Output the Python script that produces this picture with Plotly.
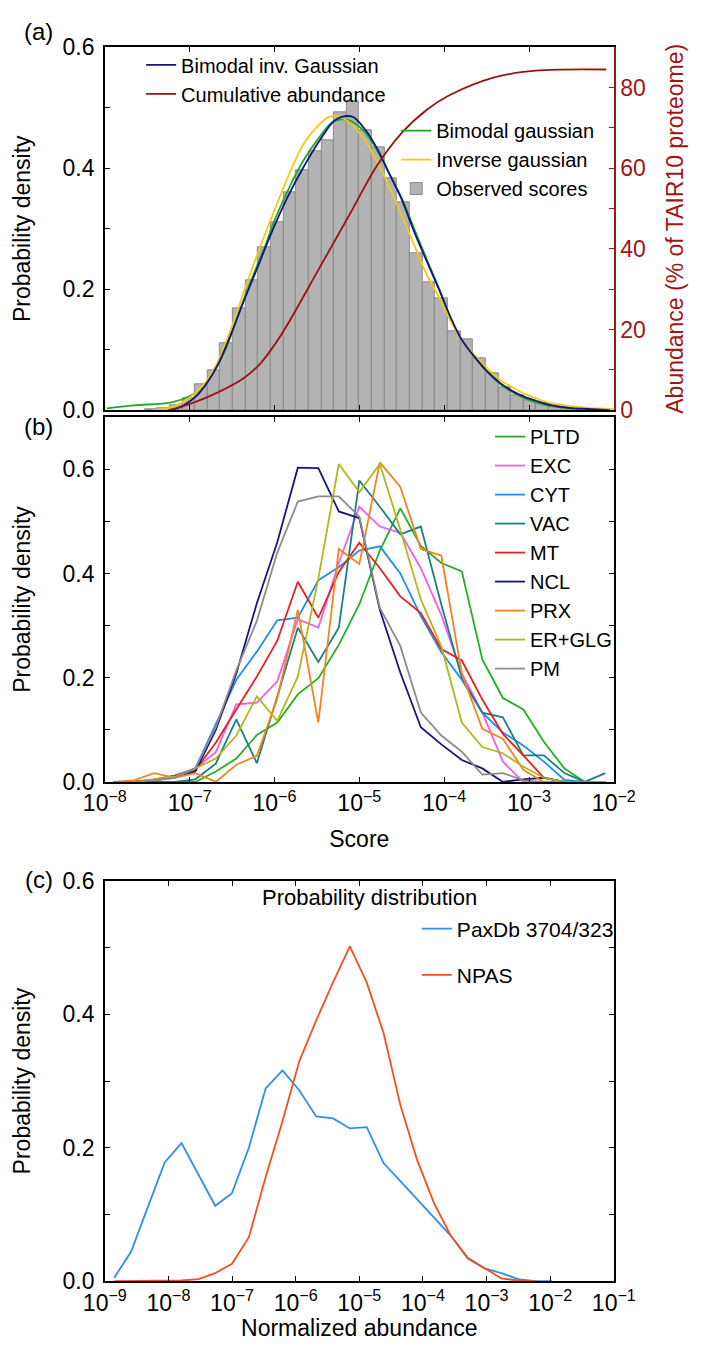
import plotly.graph_objects as go

# ---------------- Panel (a): score distribution ----------------
hist_log10_center = [-7.459, -7.310, -7.161, -7.012, -6.863, -6.714, -6.565, -6.416, -6.267, -6.118,
                     -5.969, -5.820, -5.671, -5.522, -5.373, -5.224, -5.075, -4.926, -4.777, -4.628,
                     -4.479, -4.330, -4.181, -4.032, -3.883, -3.734, -3.585, -3.436, -3.287, -3.138,
                     -2.989, -2.840, -2.691, -2.542]
hist_density = [0.002, 0.003, 0.008, 0.019, 0.042, 0.066, 0.110, 0.169, 0.215, 0.270,
                0.311, 0.360, 0.396, 0.428, 0.446, 0.493, 0.510, 0.462, 0.435, 0.384,
                0.343, 0.259, 0.211, 0.185, 0.131, 0.117, 0.085, 0.061, 0.038, 0.024,
                0.016, 0.011, 0.007, 0.004]
hist_bin_width = 0.149

bimodal_inv_log10 = [-7.215, -7.067, -6.917, -6.806, -6.658, -6.509, -6.36, -6.212, -6.025, -5.84,
                     -5.654, -5.468, -5.30, -5.208, -5.077, -4.948, -4.799, -4.65, -4.502, -4.353,
                     -4.204, -4.056, -3.906, -3.795, -3.646, -3.498, -3.349, -3.20, -3.052, -2.903,
                     -2.754, -2.531, -2.308, -2.05]
bimodal_inv_density = [0.0, 0.008, 0.024, 0.043, 0.078, 0.127, 0.181, 0.232, 0.297, 0.354,
                       0.403, 0.446, 0.478, 0.485, 0.485, 0.467, 0.435, 0.392, 0.349, 0.295,
                       0.246, 0.198, 0.148, 0.117, 0.089, 0.065, 0.046, 0.032, 0.022, 0.015,
                       0.009, 0.004, 0.002, 0.0]

bimodal_gauss_log10 = [-7.977, -7.66, -7.215, -6.99, -6.844, -6.694, -6.546, -6.398, -6.248, -6.10,
                       -6.025, -5.84, -5.654, -5.468, -5.32, -5.208, -5.097, -4.948, -4.80, -4.65,
                       -4.502, -4.353, -4.204, -4.056, -3.906, -3.795, -3.646, -3.498, -3.349, -3.20,
                       -3.052, -2.903, -2.754, -2.531, -2.308, -2.05]
bimodal_gauss_density = [0.003, 0.008, 0.013, 0.024, 0.038, 0.068, 0.111, 0.170, 0.224, 0.275,
                         0.305, 0.364, 0.414, 0.452, 0.476, 0.481, 0.478, 0.462, 0.432, 0.392,
                         0.351, 0.300, 0.249, 0.200, 0.145, 0.117, 0.089, 0.064, 0.044, 0.030,
                         0.020, 0.012, 0.007, 0.003, 0.001, 0.0]

inv_gauss_log10 = [-7.438, -7.215, -6.99, -6.844, -6.694, -6.546, -6.398, -6.248, -6.10, -6.025,
                   -5.84, -5.654, -5.468, -5.357, -5.227, -5.097, -4.948, -4.80, -4.65, -4.502,
                   -4.353, -4.204, -4.056, -3.906, -3.795, -3.646, -3.498, -3.349, -3.20, -3.052,
                   -2.903, -2.754, -2.531, -2.308, -2.05, -1.98]
inv_gauss_density = [0.0, 0.005, 0.022, 0.041, 0.073, 0.122, 0.181, 0.240, 0.295, 0.322,
                     0.386, 0.441, 0.473, 0.485, 0.485, 0.473, 0.449, 0.413, 0.370, 0.322,
                     0.273, 0.224, 0.185, 0.143, 0.116, 0.092, 0.070, 0.051, 0.038, 0.027,
                     0.019, 0.012, 0.007, 0.004, 0.002, 0.001]

cum_log10 = [-7.25, -6.99, -6.66, -6.36, -6.17, -5.99, -5.84, -5.47, -5.10, -4.80,
             -4.50, -4.20, -3.95, -3.42, -2.92, -2.09]
cum_abundance_pct = [0.0, 1.6, 4.5, 8.0, 11.5, 16.5, 21.5, 35.3, 49.1, 60.4,
                     68.8, 74.6, 78.0, 82.5, 84.2, 84.5]

# ---------------- Panel (b): per-compartment score distributions ----------------
loc_log10 = [-7.9, -7.658, -7.417, -7.175, -6.933, -6.692, -6.45, -6.208, -5.967, -5.725,
             -5.483, -5.242, -5.0, -4.758, -4.517, -4.275, -4.033, -3.792, -3.55, -3.308,
             -3.067, -2.825, -2.583, -2.342, -2.1]
PLTD = [0, 0, 0, 0, 0.0, 0.02, 0.045, 0.09, 0.114, 0.168, 0.199, 0.263, 0.341, 0.444, 0.525,
        0.453, 0.42, 0.404, 0.235, 0.161, 0.139, 0.077, 0.026, 0.0, 0.0]
EXC = [0, 0, 0.003, 0.008, 0.026, 0.057, 0.149, 0.152, 0.193, 0.312, 0.296, 0.42, 0.528, 0.49, 0.478,
       0.41, 0.32, 0.208, 0.133, 0.039, 0.0, 0, 0, 0, 0]
CYT = [0, 0, 0.003, 0.012, 0.026, 0.11, 0.196, 0.25, 0.31, 0.315, 0.387, 0.412, 0.444, 0.452, 0.40,
       0.318, 0.249, 0.196, 0.133, 0.095, 0.07, 0.039, 0.004, 0, 0]
VAC = [0, 0, 0, 0, 0.005, 0.035, 0.12, 0.036, 0.164, 0.296, 0.23, 0.296, 0.578, 0.528, 0.475,
       0.49, 0.34, 0.2, 0.133, 0.124, 0.051, 0.051, 0.017, 0.0, 0.017]
MT = [0, 0, 0.005, 0.012, 0.023, 0.075, 0.139, 0.202, 0.271, 0.384, 0.315, 0.403, 0.459, 0.41, 0.356,
      0.324, 0.255, 0.233, 0.158, 0.092, 0.051, 0.008, 0, 0, 0]
NCL = [0, 0, 0.003, 0.01, 0.02, 0.10, 0.208, 0.343, 0.46, 0.603, 0.602, 0.519, 0.506, 0.33, 0.21,
       0.105, 0.072, 0.042, 0.026, 0.0, 0.005, 0.008, 0, 0, 0]
PRX = [0, 0.003, 0.017, 0.008, 0.017, 0.0, 0.033, 0.05, 0.16, 0.33, 0.114, 0.447, 0.418, 0.613, 0.566,
       0.447, 0.434, 0.208, 0.102, 0.083, 0.023, 0, 0, 0, 0]
ER_GLG = [0, 0, 0.005, 0.01, 0.026, 0.045, 0.089, 0.164, 0.117, 0.202, 0.39, 0.61, 0.556, 0.61, 0.484,
          0.35, 0.26, 0.114, 0.067, 0.055, 0.029, 0.008, 0, 0, 0]
PM = [0, 0, 0.003, 0.008, 0.026, 0.105, 0.214, 0.309, 0.44, 0.538, 0.548, 0.548, 0.509, 0.334, 0.261,
      0.133, 0.089, 0.058, 0.014, 0.017, 0.003, 0, 0, 0, 0]
loc_names = ["PLTD", "EXC", "CYT", "VAC", "MT", "NCL", "PRX", "ER+GLG", "PM"]
loc_series = [PLTD, EXC, CYT, VAC, MT, NCL, PRX, ER_GLG, PM]
loc_colors = ["#22b022", "#f25cf2", "#1e8ff0", "#1a8080", "#e8201e", "#16167a", "#f5841f", "#b5b51c", "#8c8c8c"]

# ---------------- Panel (c): normalized abundance distributions ----------------
abund_log10 = [-8.853, -8.588, -8.324, -8.059, -7.795, -7.530, -7.265, -7.001, -6.736, -6.472,
               -6.207, -5.942, -5.678, -5.413, -5.149, -4.884, -4.619, -4.355, -4.090, -3.826,
               -3.561, -3.296, -3.032, -2.767, -2.503, -2.238, -1.973]
paxdb_density = [0.005, 0.044, 0.111, 0.178, 0.207, 0.159, 0.113, 0.132, 0.200, 0.289,
                 0.316, 0.286, 0.247, 0.244, 0.229, 0.231, 0.177, 0.150, 0.123, 0.095,
                 0.068, 0.034, 0.019, 0.012, 0.003, 0.0, 0.0]
npas_density = [0.0, 0.0, 0.0, 0.0, 0.001, 0.003, 0.012, 0.026, 0.066, 0.156,
                0.240, 0.330, 0.391, 0.448, 0.502, 0.448, 0.372, 0.264, 0.181, 0.117,
                0.068, 0.035, 0.019, 0.004, 0.001, 0.0]

# ---------------- tick labels ----------------
b_tickvals = [-8, -7, -6, -5, -4, -3, -2]
b_ticktext = ["10<sup>\u22128</sup>", "10<sup>\u22127</sup>", "10<sup>\u22126</sup>", "10<sup>\u22125</sup>",
              "10<sup>\u22124</sup>", "10<sup>\u22123</sup>", "10<sup>\u22122</sup>"]
c_tickvals = [-9, -8, -7, -6, -5, -4, -3, -2, -1]
c_ticktext = ["10<sup>\u22129</sup>", "10<sup>\u22128</sup>", "10<sup>\u22127</sup>", "10<sup>\u22126</sup>",
              "10<sup>\u22125</sup>", "10<sup>\u22124</sup>", "10<sup>\u22123</sup>", "10<sup>\u22122</sup>",
              "10<sup>\u22121</sup>"]
dens_tickvals = [0, 0.2, 0.4, 0.6]
dens_ticktext = ["0.0", "0.2", "0.4", "0.6"]
abund_tickvals = [0, 20, 40, 60, 80]
abund_ticktext = ["0", "20", "40", "60", "80"]

# ---------------- build figure ----------------
W, H = 709, 1353
FONT = "Liberation Sans, Arial, Helvetica, sans-serif"
DARKRED = "#a01515"


def fx(p):
    return p / W


def fy(p):
    return 1 - p / H


XDOM = [fx(88.3), fx(631)]

fig = go.Figure()

# panel (a)
fig.add_trace(go.Bar(x=hist_log10_center, y=hist_density, width=hist_bin_width,
                     marker=dict(color="#b3b3b3", line=dict(color="#8a8a8a", width=1)),
                     name="Observed scores", legend="legend2", legendrank=3, xaxis="x", yaxis="y"))
fig.add_trace(go.Scatter(x=bimodal_gauss_log10, y=bimodal_gauss_density, mode="lines",
                         line=dict(color="#22a822", width=1.8, shape="spline"),
                         name="Bimodal gaussian", legend="legend2", legendrank=1, xaxis="x", yaxis="y"))
fig.add_trace(go.Scatter(x=inv_gauss_log10, y=inv_gauss_density, mode="lines",
                         line=dict(color="#f5c816", width=1.8, shape="spline"),
                         name="Inverse gaussian", legend="legend2", legendrank=2, xaxis="x", yaxis="y"))
fig.add_trace(go.Scatter(x=bimodal_inv_log10, y=bimodal_inv_density, mode="lines",
                         line=dict(color="#14147e", width=1.8, shape="spline"),
                         name="Bimodal inv. Gaussian", legend="legend", legendrank=1, xaxis="x", yaxis="y"))
fig.add_trace(go.Scatter(x=cum_log10, y=cum_abundance_pct, mode="lines",
                         line=dict(color="#9b1111", width=1.8, shape="spline"),
                         name="Cumulative abundance", legend="legend", legendrank=2, xaxis="x", yaxis="y2"))

# panel (b)
for nm, ser, col in zip(loc_names, loc_series, loc_colors):
    fig.add_trace(go.Scatter(x=loc_log10, y=ser, mode="lines", line=dict(color=col, width=1.8),
                             name=nm, legend="legend3", xaxis="x2", yaxis="y3"))

# panel (c)
fig.add_trace(go.Scatter(x=abund_log10, y=paxdb_density, mode="lines", line=dict(color="#2f8fea", width=1.8),
                         name="PaxDb 3704/323", legend="legend4", legendgroup="g1", xaxis="x3", yaxis="y4"))
fig.add_trace(go.Scatter(x=abund_log10[:len(npas_density)], y=npas_density, mode="lines",
                         line=dict(color="#f2501e", width=1.8),
                         name="NPAS", legend="legend4", legendgroup="g2", xaxis="x3", yaxis="y4"))

axis_common = dict(showgrid=False, zeroline=False, showline=True, linecolor="black", linewidth=1.5,
                   ticks="inside", ticklen=5, tickwidth=1, tickcolor="black",
                   tickfont=dict(size=23, color="black", family=FONT))
y_minor = dict(dtick=0.1, ticks="inside", ticklen=5, tickcolor="black", showgrid=False)

fig.update_layout(
    width=W, height=H, margin=dict(l=0, r=0, t=0, b=0),
    paper_bgcolor="white", plot_bgcolor="white",
    font=dict(family=FONT, color="black", size=20),
    barmode="overlay", bargap=0,
    xaxis=dict(domain=XDOM, anchor="y", range=[-8, -2], tickvals=b_tickvals, showticklabels=False,
               mirror="ticks", **axis_common),
    yaxis=dict(domain=[fy(405), fy(35)], anchor="x", range=[0, 0.6], tickvals=dens_tickvals,
               ticktext=dens_ticktext, minor=y_minor, mirror=False,
               title=dict(text="Probability density", font=dict(size=23), standoff=25),
               ticklabelstandoff=4, **axis_common),
    yaxis2=dict(overlaying="y", side="right", anchor="x", range=[0, 90],
                tickvals=abund_tickvals, ticktext=abund_ticktext,
                minor=dict(dtick=10, ticks="inside", ticklen=5, tickcolor=DARKRED, showgrid=False),
                showgrid=False, zeroline=False, showline=True, linecolor=DARKRED, linewidth=1.5,
                ticks="inside", ticklen=5, tickcolor=DARKRED,
                tickfont=dict(size=23, color=DARKRED, family=FONT),
                title=dict(text="Abundance (% of TAIR10 proteome)", font=dict(size=23, color=DARKRED),
                           standoff=22)),
    xaxis2=dict(domain=XDOM, anchor="y3", range=[-8, -2], tickvals=b_tickvals, ticktext=b_ticktext,
                mirror="ticks", title=dict(text="Score", font=dict(size=23), standoff=16), **axis_common),
    yaxis3=dict(domain=[fy(784), fy(412)], anchor="x2", range=[0, 0.7], tickvals=dens_tickvals,
                ticktext=dens_ticktext, minor=y_minor, mirror="ticks",
                title=dict(text="Probability density", font=dict(size=23), standoff=25),
                ticklabelstandoff=4, **axis_common),
    xaxis3=dict(domain=XDOM, anchor="y4", range=[-9, -1], tickvals=c_tickvals, ticktext=c_ticktext,
                mirror="ticks", title=dict(text="Normalized abundance", font=dict(size=23), standoff=4),
                **axis_common),
    yaxis4=dict(domain=[fy(1293), fy(885)], anchor="x3", range=[0, 0.6], tickvals=dens_tickvals,
                ticktext=dens_ticktext, minor=y_minor, mirror="ticks",
                title=dict(text="Probability density", font=dict(size=23), standoff=25),
                ticklabelstandoff=4, **axis_common),
    legend=dict(x=fx(127), y=fy(33), xanchor="left", yanchor="top", bgcolor="rgba(0,0,0,0)",
                font=dict(size=20), itemwidth=30),
    legend2=dict(x=fx(399), y=fy(100), xanchor="left", yanchor="top", bgcolor="rgba(0,0,0,0)",
                 font=dict(size=20), itemwidth=30),
    legend3=dict(x=fx(499), y=fy(412), xanchor="left", yanchor="top", bgcolor="rgba(0,0,0,0)",
                 font=dict(size=20), itemwidth=30),
    legend4=dict(x=fx(421), y=fy(913), xanchor="left", yanchor="top", bgcolor="rgba(0,0,0,0)",
                 font=dict(size=21), itemwidth=30, traceorder="grouped", tracegroupgap=16),
    showlegend=True,
)

# panel letters and legend heading
for txt, yy in [("(a)", 19), ("(b)", 422), ("(c)", 883)]:
    fig.add_annotation(text=txt, xref="paper", yref="paper", x=fx(18), y=fy(yy), showarrow=False,
                       xanchor="center", yanchor="middle", font=dict(size=24, color="black"))
fig.add_annotation(text="Probability distribution", xref="paper", yref="paper", x=fx(370), y=fy(902),
                   showarrow=False, xanchor="center", yanchor="middle", font=dict(size=22, color="black"))

fig.write_html("out.html", config={"displayModeBar": False},
               post_script="document.body.style.margin='0';document.body.style.padding='0';"
                           "document.documentElement.style.overflow='hidden';")
